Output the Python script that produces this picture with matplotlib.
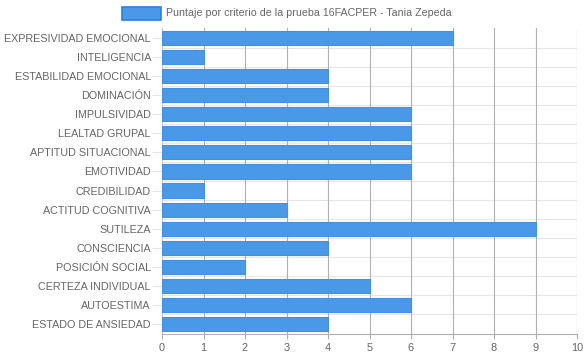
import matplotlib
matplotlib.use("Agg")
import matplotlib.pyplot as plt
from matplotlib.patches import Rectangle

plt.rcParams['font.family'] = ['Liberation Sans', 'DejaVu Sans']

categories = ["EXPRESIVIDAD EMOCIONAL", "INTELIGENCIA", "ESTABILIDAD EMOCIONAL", "DOMINACIÓN",
              "IMPULSIVIDAD", "LEALTAD GRUPAL", "APTITUD SITUACIONAL", "EMOTIVIDAD",
              "CREDIBILIDAD", "ACTITUD COGNITIVA", "SUTILEZA", "CONSCIENCIA",
              "POSICIÓN SOCIAL", "CERTEZA INDIVIDUAL", "AUTOESTIMA", "ESTADO DE ANSIEDAD"]
values = [7, 1, 4, 4, 6, 6, 6, 6, 1, 3, 9, 4, 2, 5, 6, 4]
series_label = "Puntaje por criterio de la prueba 16FACPER - Tania Zepeda"
xticks = list(range(0, 11))

W, H = 584, 359
fig = plt.figure(figsize=(W / 100, H / 100), dpi=100)
left, right, top, bottom = 162, 577, 28.5, 333.5
ax = fig.add_axes([left / W, 1 - bottom / H, (right - left) / W, (bottom - top) / H])

n = len(categories)
ypos = list(range(n))
ax.barh(ypos, values, height=0.74, color='#4a98e8', edgecolor='#4490e4', linewidth=0.8, zorder=3)
ax.set_ylim(n - 0.5, -0.5)
ax.set_xlim(0, 10)
ax.set_xticks(xticks)
ax.set_yticks(ypos)
ax.set_yticklabels(categories)
# horizontal grid at category boundaries
for b in [i - 0.5 for i in range(1, n)]:
    ax.axhline(b, color='#e6e6e6', linewidth=0.8, zorder=1)
for x in xticks[1:]:
    ax.axvline(x, color='#b0b0b0', linewidth=0.8, zorder=1)
for s in ['top', 'right']:
    ax.spines[s].set_visible(False)
ax.spines['left'].set_color('#c8c8c8')
ax.spines['bottom'].set_color('#b0b0b0')
ax.tick_params(axis='y', length=7.2, color='#e6e6e6', labelcolor='#666666', labelsize=7.75, pad=0.8)
ax.tick_params(axis='x', length=3.6, color='#b0b0b0', labelcolor='#666666', labelsize=7.9, pad=3)

# legend
fig.patches.append(Rectangle((122 / W, 1 - 20 / H), 39 / W, 13 / H, transform=fig.transFigure,
                             facecolor='#4a98e8', edgecolor='#2a7fe0', linewidth=1.2))
fig.text(166 / W, 1 - 13.5 / H, series_label, fontsize=7.65, color='#666666', va='center', ha='left')

fig.savefig("out.png", dpi=100)
